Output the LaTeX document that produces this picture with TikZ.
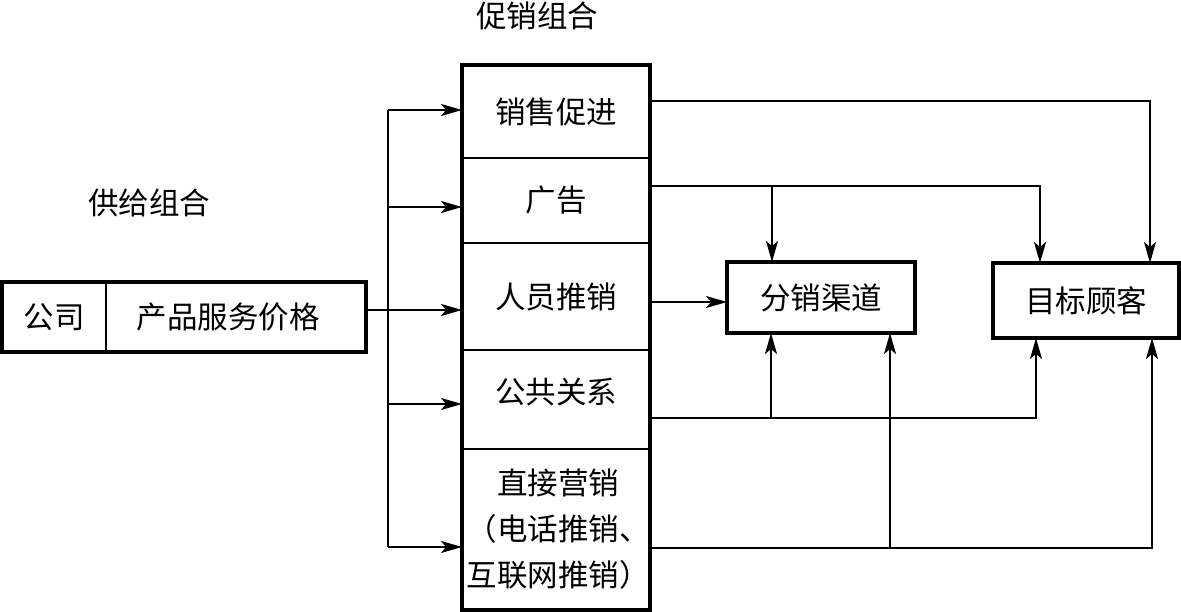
\documentclass[tikz,border=0pt]{standalone}
\usepackage{fontspec}
\setmainfont{Noto Sans CJK SC}
\usetikzlibrary{arrows.meta}
\begin{document}
\begin{tikzpicture}[x=1pt,y=-1pt,
  every node/.style={font=\fontsize{30.5}{46}\selectfont, inner sep=0pt, outer sep=0pt},
  cell/.style={draw, line width=2pt, minimum width=188pt, anchor=center},
  lbox/.style={draw, line width=2pt, minimum height=70pt, anchor=center},
  frame/.style={draw, line width=3.2pt},
  conn/.style={line width=1.8pt},
  arr/.style={conn, -{Stealth[length=21pt,width=12pt,inset=5pt]}},
  title/.style={anchor=center}]
\useasboundingbox (0,0) rectangle (1181,612);
\fill[white] (0,0) rectangle (1181,612);

% titles
\node[title] (t1) at (537,16) {促销组合};
\node[title] (t2) at (149,203) {供给组合};

% supply box
\node[lbox, minimum width=104pt] (co) at (54,317) {公司};
\node[lbox, minimum width=260pt] (prod) at (236,317) {\hspace*{-16pt}产品服务价格};
\draw[frame] (co.north west) rectangle (prod.south east);

% promotion mix cells
\node[cell, minimum height=93pt] (c1) at (556,111.5) {销售促进};
\node[cell, minimum height=85pt] (c2) at (556,200.5) {广告};
\node[cell, minimum height=107pt] (c3) at (556,296.5) {人员推销};
\node[cell, minimum height=99pt] (c4) at (556,399.5) {\raisebox{18pt}{公共关系}};
\node[cell, minimum height=161pt, align=center] (c5) at (556,529.5) {\hspace*{4pt}直接营销\\\hspace*{4pt}（电话推销、\\\hspace*{4pt}互联网推销）};
\draw[frame] (c1.north west) rectangle (c5.south east);

% targets
\node[draw, line width=3.2pt, minimum width=188pt, minimum height=71pt] (dist) at (821,297.5) {分销渠道};
\node[draw, line width=3.2pt, minimum width=186pt, minimum height=75pt] (tgt) at (1086,300.5) {目标顾客};

% bus on the left
\coordinate (b1) at (388,110);
\coordinate (b2) at (388,207);
\coordinate (b3) at (388,310);
\coordinate (b4) at (388,404);
\coordinate (b5) at (388,547);
\draw[conn] (b1) -- (b5);
\draw[arr] (b1) -- (b1 -| c1.west);
\draw[arr] (b2) -- (b2 -| c2.west);
\draw[arr] (prod.east |- b3) -- (b3 -| c3.west);
\draw[arr] (b4) -- (b4 -| c4.west);
\draw[arr] (b5) -- (b5 -| c5.west);

% right side connectors
\coordinate (r1) at (1150,101);
\coordinate (r2) at (1040,186);
\coordinate (k2) at (772,186);
\coordinate (r3) at (650,302);
\coordinate (r4) at (1036,418);
\coordinate (k4) at (771,418);
\coordinate (r5) at (1152,548);
\coordinate (k5) at (890,548);

\draw[arr] (c1.east |- r1) -- (r1) -- (r1 |- tgt.north);
\draw[arr] (c2.east |- r2) -- (r2) -- (r2 |- tgt.north);
\draw[arr] (k2) -- (k2 |- dist.north);
\draw[arr] (c3.east |- r3) -- (r3 -| dist.west);
\draw[arr] (c4.east |- r4) -- (r4) -- (r4 |- tgt.south);
\draw[arr] (k4) -- (k4 |- dist.south);
\draw[arr] (c5.east |- r5) -- (r5) -- (r5 |- tgt.south);
\draw[arr] (k5) -- (k5 |- dist.south);
\end{tikzpicture}
\end{document}
